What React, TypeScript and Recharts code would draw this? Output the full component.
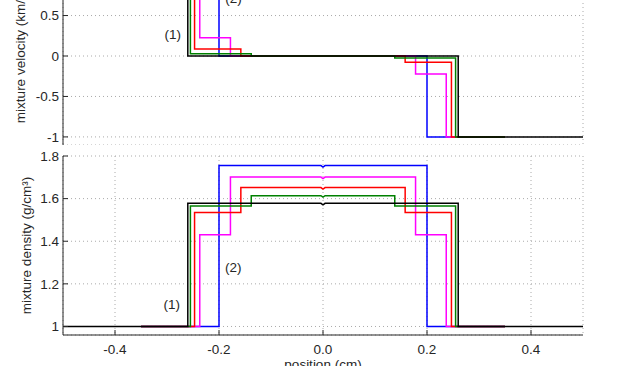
import React from 'react';
import { LineChart, Line, XAxis, YAxis, CartesianGrid, ReferenceDot } from 'recharts';

// breakpoints (cm) and values
const blackX = [-0.5, -0.26, -0.26, -0.004, 0, 0.004, 0.26, 0.26, 0.5];
const blackVel = [1, 1, 0, 0, 0, 0, 0, -1, -1];
const blackRho = [1, 1, 1.578, 1.578, 1.571, 1.578, 1.578, 1, 1];

const greenX = [-0.35, -0.255, -0.255, -0.138, -0.138, -0.004, 0, 0.004, 0.138, 0.138, 0.255, 0.255, 0.35];
const greenVel = [1, 1, 0.028, 0.028, 0, 0, 0, 0, 0, -0.026, -0.026, -1, -1];
const greenRho = [1, 1, 1.565, 1.565, 1.614, 1.614, 1.607, 1.614, 1.614, 1.565, 1.565, 1, 1];

const redX = [-0.35, -0.247, -0.247, -0.158, -0.158, -0.004, 0, 0.004, 0.158, 0.158, 0.247, 0.247, 0.35];
const redVel = [1, 1, 0.086, 0.086, 0, 0, 0, 0, 0, -0.078, -0.078, -1, -1];
const redRho = [1, 1, 1.535, 1.535, 1.652, 1.652, 1.645, 1.652, 1.652, 1.535, 1.535, 1, 1];

const magentaX = [-0.35, -0.237, -0.237, -0.178, -0.178, -0.004, 0, 0.004, 0.178, 0.178, 0.237, 0.237, 0.35];
const magentaVel = [1, 1, 0.226, 0.226, 0, 0, 0, 0, 0, -0.222, -0.222, -1, -1];
const magentaRho = [1, 1, 1.431, 1.431, 1.701, 1.701, 1.694, 1.701, 1.701, 1.431, 1.431, 1, 1];

const blueX = [-0.35, -0.2, -0.2, -0.004, 0, 0.004, 0.2, 0.2, 0.35];
const blueVel = [1, 1, 0, 0, 0, 0, 0, -1, -1];
const blueRho = [1, 1, 1.755, 1.755, 1.748, 1.755, 1.755, 1, 1];

const xTicks = [-0.4, -0.2, 0, 0.2, 0.4];
const velTicks = [-1, -0.5, 0, 0.5, 1];
const rhoTicks = [1, 1.2, 1.4, 1.6, 1.8];

const noteText = ['(1)', '(2)'];
const velNoteX = [-0.289, -0.172];
const velNoteY = [0.27, 0.71];
const rhoNoteX = [-0.291, -0.1725];
const rhoNoteY = [1.106, 1.279];

const toPoints = (xs: number[], ys: number[]) => xs.map((x, i) => ({ x, y: ys[i] }));

const series = [
  { name: 'blue', color: '#0000ff', x: blueX, vel: blueVel, rho: blueRho },
  { name: 'magenta', color: '#ff00ff', x: magentaX, vel: magentaVel, rho: magentaRho },
  { name: 'red', color: '#ff0000', x: redX, vel: redVel, rho: redRho },
  { name: 'green', color: '#008000', x: greenX, vel: greenVel, rho: greenRho },
  { name: 'black', color: '#000000', x: blackX, vel: blackVel, rho: blackRho },
];

const INK = '#262626';
const FONT = 13.5;
const PAD = 12; // room above each plot so top tick labels are not clipped
const tickStyle = { fontSize: FONT, fill: INK };
const axisLine = { stroke: INK, strokeWidth: 1 };
const tickLine = { stroke: INK, strokeWidth: 1 };

const yLabel = (text: string, bx: number) => (props: any) => {
  const vb = props.viewBox || { y: PAD, height: 180 };
  const cy = vb.y + vb.height / 2;
  return (
    <text x={bx} y={cy} transform={`rotate(-90 ${bx} ${cy})`} textAnchor="middle" fontSize={FONT} fill={INK}>
      {text}
    </text>
  );
};

const xLabel = (props: any) => {
  const vb = props.viewBox || { x: 63, y: 179 + PAD, width: 520 };
  return (
    <text x={vb.x + vb.width / 2} y={vb.y + 34} textAnchor="middle" fontSize={FONT} fill={INK}>
      position (cm)
    </text>
  );
};

export default function App() {
  return (
    <div
      style={{
        position: 'fixed',
        left: 0,
        top: 0,
        width: 631,
        height: 366,
        overflow: 'hidden',
        background: '#fff',
        fontFamily: '"Liberation Sans", Arial, sans-serif',
      }}
    >
      {/* top panel: velocity, its upper part runs off the picture */}
      <div style={{ position: 'absolute', left: 0, top: -33 - PAD }}>
        <LineChart width={631} height={178 + PAD} margin={{ top: PAD, right: 48, bottom: 0, left: 0 }}>
          <CartesianGrid stroke="#aaa" strokeDasharray="1 3" />
          <XAxis
            dataKey="x"
            type="number"
            domain={[-0.5, 0.5]}
            allowDataOverflow
            ticks={xTicks}
            interval={0}
            height={0}
            tick={false}
            tickSize={-5}
            axisLine={axisLine}
            tickLine={tickLine}
          />
          <XAxis
            xAxisId="top"
            orientation="top"
            type="number"
            domain={[-0.5, 0.5]}
            allowDataOverflow
            ticks={xTicks}
            interval={0}
            height={0}
            tick={false}
            tickSize={-5}
            axisLine={axisLine}
            tickLine={tickLine}
          />
          <YAxis
            type="number"
            domain={[-1.1, 1.1]}
            allowDataOverflow
            ticks={velTicks}
            interval={0}
            width={63}
            tickSize={-5}
            tickMargin={9}
            tick={tickStyle}
            tickFormatter={(v: number) => String(v)}
            axisLine={axisLine}
            tickLine={tickLine}
            label={yLabel('mixture velocity (km/s)', 24.5)}
          />
          <YAxis
            yAxisId="right"
            orientation="right"
            type="number"
            domain={[-1.1, 1.1]}
            allowDataOverflow
            ticks={velTicks}
            interval={0}
            width={0}
            tick={false}
            tickSize={-5}
            axisLine={axisLine}
            tickLine={tickLine}
          />
          {series.map((s) => (
            <Line
              key={s.name}
              data={toPoints(s.x, s.vel)}
              dataKey="y"
              type="linear"
              stroke={s.color}
              strokeWidth={1.5}
              dot={false}
              isAnimationActive={false}
            />
          ))}
          {noteText.map((t, i) => (
            <ReferenceDot
              key={t}
              x={velNoteX[i]}
              y={velNoteY[i]}
              r={1}
              fill="none"
              stroke="none"
              label={{ value: t, position: 'center', fontSize: FONT, fill: INK }}
            />
          ))}
        </LineChart>
      </div>

      {/* bottom panel: density */}
      <div style={{ position: 'absolute', left: 0, top: 156 - PAD }}>
        <LineChart width={631} height={219 + PAD} margin={{ top: PAD, right: 48, bottom: 0, left: 0 }}>
          <CartesianGrid stroke="#aaa" strokeDasharray="1 3" />
          <XAxis
            dataKey="x"
            type="number"
            domain={[-0.5, 0.5]}
            allowDataOverflow
            ticks={xTicks}
            interval={0}
            height={40}
            tickSize={-5}
            tickMargin={14}
            tick={tickStyle}
            tickFormatter={(v: number) => v.toFixed(1)}
            axisLine={axisLine}
            tickLine={tickLine}
            label={xLabel}
          />
          <XAxis
            xAxisId="top"
            orientation="top"
            type="number"
            domain={[-0.5, 0.5]}
            allowDataOverflow
            ticks={xTicks}
            interval={0}
            height={0}
            tick={false}
            tickSize={-5}
            axisLine={axisLine}
            tickLine={tickLine}
          />
          <YAxis
            type="number"
            domain={[0.96, 1.8]}
            allowDataOverflow
            ticks={rhoTicks}
            interval={0}
            width={63}
            tickSize={-5}
            tickMargin={9}
            tick={tickStyle}
            tickFormatter={(v: number) => String(v)}
            axisLine={axisLine}
            tickLine={tickLine}
            label={yLabel('mixture density (g/cm³)', 30.5)}
          />
          <YAxis
            yAxisId="right"
            orientation="right"
            type="number"
            domain={[0.96, 1.8]}
            allowDataOverflow
            ticks={rhoTicks}
            interval={0}
            width={0}
            tick={false}
            tickSize={-5}
            axisLine={axisLine}
            tickLine={tickLine}
          />
          {series.map((s) => (
            <Line
              key={s.name}
              data={toPoints(s.x, s.rho)}
              dataKey="y"
              type="linear"
              stroke={s.color}
              strokeWidth={1.5}
              dot={false}
              isAnimationActive={false}
            />
          ))}
          {noteText.map((t, i) => (
            <ReferenceDot
              key={t}
              x={rhoNoteX[i]}
              y={rhoNoteY[i]}
              r={1}
              fill="none"
              stroke="none"
              label={{ value: t, position: 'center', fontSize: FONT, fill: INK }}
            />
          ))}
        </LineChart>
      </div>
    </div>
  );
}
